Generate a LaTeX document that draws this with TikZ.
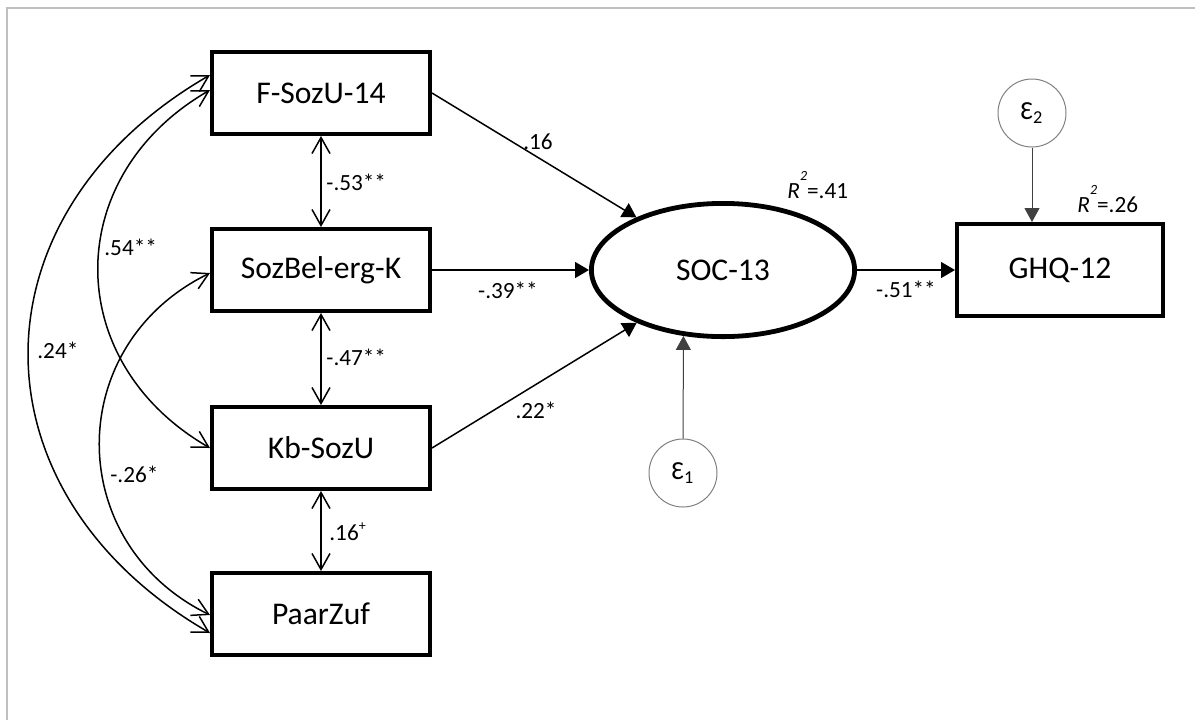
\documentclass[tikz,border=0pt]{standalone}
\usepackage{fontspec}
\setmainfont{Carlito}
\usetikzlibrary{arrows.meta,positioning,shapes.geometric}
\definecolor{semframe}{HTML}{BFBFBF}
\definecolor{semerr}{HTML}{808080}
\tikzset{
  obs/.style={rectangle,draw=black,line width=2.2pt,minimum width=108.8pt,minimum height=40.8pt,font=\fontsize{15.8}{18}\selectfont},
  lat/.style={ellipse,draw=black,line width=2.4pt,minimum width=131.6pt,minimum height=66.6pt,font=\fontsize{15.8}{18}\selectfont},
  err/.style={circle,draw=semerr,line width=.5pt,minimum size=34pt,inner sep=0pt,font=\fontsize{13}{15}\selectfont},
  path/.style={-{Triangle[length=7pt,width=8pt]},line width=.75pt},
  errpath/.style={-{Triangle[length=7pt,width=7.5pt]},draw=black!75,line width=.5pt},
  cov/.style={{Straight Barb[length=8pt,width=9pt]}-{Straight Barb[length=8pt,width=9pt]},line width=.75pt},
  coef/.style={font=\fontsize{11.6}{14}\selectfont,inner sep=0pt},
}
\newcommand{\rsq}{\textit{R}\raisebox{9pt}{\fontsize{7}{8}\selectfont\textit{2}}}

\begin{document}
\begin{tikzpicture}[x=.5pt,y=-.5pt]
  \useasboundingbox (0,0) rectangle (1195,720);
  \draw[semframe,line width=1pt] (7,720) -- (7,8) -- (1195,8);
  % predictors
  \node[obs] (fsozu) at (321,93) {F-SozU-14};
  \node[obs] (sozbel) at (321,270) {SozBel-erg-K};
  \node[obs] (kbsozu) at (321,448) {Kb-SozU};
  \node[obs] (paarzuf) at (321,614) {PaarZuf};
  % mediator, outcome, errors
  \node[lat] (soc) at (723,270) {SOC-13};
  \node[obs,minimum width=102.8pt,minimum height=45.8pt] (ghq) at (1060,270) {GHQ-12};
  \node[err] (eps1) at (683,473) {Ɛ\textsubscript{1}};
  \node[err] (eps2) at (1032,113) {Ɛ\textsubscript{2}};
  \draw[path] (fsozu.east) -- (soc);
  \draw[path] (sozbel.east) -- (soc.west);
  \draw[path] (kbsozu.east) -- (soc);
  \draw[path] (soc.east) -- (ghq.west);
  \draw[errpath] (eps1) -- (soc.-121);
  \draw[errpath] (eps2) -- (eps2 |- ghq.north);
  % correlations
  \draw[cov] (fsozu) -- (sozbel);
  \draw[cov] (sozbel) -- (kbsozu);
  \draw[cov] (kbsozu) -- (paarzuf);
  \draw[cov] ([shift={(0,-3)}]fsozu.west) .. controls +(-149,86) and +(-149,-86) .. (kbsozu.west);
  \draw[cov] ([shift={(0,-18)}]fsozu.west) .. controls +(-242,140) and +(-242,-140) .. ([shift={(0,19)}]paarzuf.west);
  \draw[cov] ([shift={(0,3)}]sozbel.west) .. controls +(-147,72) and +(-147,-72) .. ([shift={(0,1)}]paarzuf.west);
  \node[coef,anchor=west] (r53) at (326,182) {-.53**};
  \node[coef,anchor=west] (r47) at (326,357) {-.47**};
  \node[coef,anchor=west] (r16) at (329,532) {.16\raisebox{5pt}{\fontsize{7}{8}\selectfont+}};
  \node[coef,anchor=west] (r54) at (104,247) {.54**};
  \node[coef,anchor=west] (r24) at (37,350) {.24*};
  \node[coef,anchor=west] (r26) at (110,474) {-.26*};
  % path coefficients
  \node[coef] (b16) at (538,142) {.16};
  \node[coef] (b39) at (508,290) {-.39**};
  \node[coef] (b22) at (536,410) {.22*};
  \node[coef] (b51) at (906,289) {-.51**};
  \node[coef,anchor=base west] (rsoc) at (787,198) {\rsq=.41};
  \node[coef,anchor=base west] (rghq) at (1077,212) {\rsq=.26};
\end{tikzpicture}
\end{document}
